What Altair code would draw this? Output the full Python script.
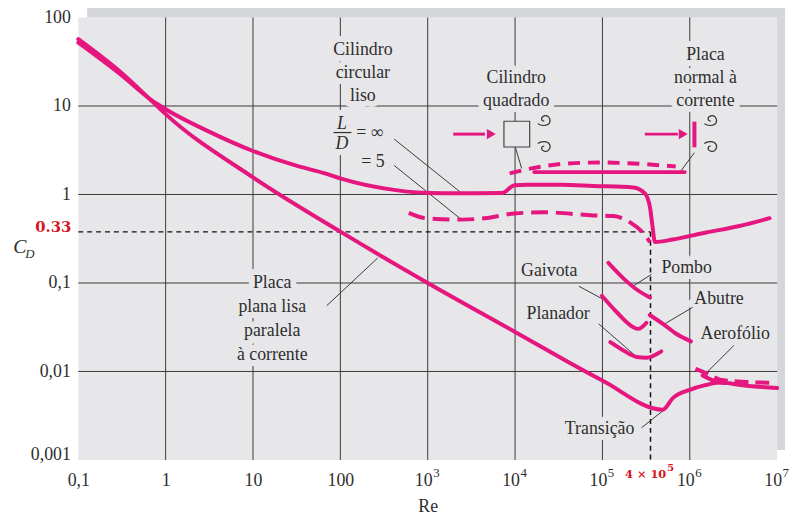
import altair as alt
import pandas as pd

MAG = "#e5177f"
BG = "#e7e7ea"
SHADOW = "#d4d6d9"
INK = "#2e2e2e"
GRID = "#3a3a3a"
RED = "#d8141e"
SERIF = "Liberation Serif"
W, H = 706, 447

# ---------------- curves (Re, C_D) ----------------
plate_par_re = [0.1, 0.3, 0.7, 1, 10, 100, 1000, 1e4, 1e5, 4.9e5, 6.4e5, 1e6, 1.5e6, 2.2e6, 4e6, 1e7]
plate_par_cd = [57, 24.5, 11.3, 8.1, 1.56, 0.38, 0.10, 0.028, 0.0079, 0.0037, 0.0050, 0.0062, 0.0070, 0.0075, 0.0070, 0.0065]

cyl_inf_re = [0.1, 0.3, 0.7, 1, 3.05, 10, 32, 70, 100, 430, 1020, 2480, 7030, 9860, 13800, 33600,
              79000, 2.25e5, 3.06e5, 3.5e5, 3.7e5, 4e5, 6.4e5, 1.5e6, 3.7e6, 8.2e6]
cyl_inf_cd = [52, 23, 11.5, 9.2, 5.2, 3.1, 2.1, 1.71, 1.52, 1.12, 1.04, 1.03, 1.04, 1.27, 1.29, 1.29,
              1.25, 1.2, 1.03, 0.72, 0.48, 0.29, 0.31, 0.37, 0.44, 0.54]

cyl_5_re = [607, 944, 2480, 4500, 9860, 21600, 79000, 1.34e5, 2.1e5, 3.2e5, 3.5e5]
cyl_5_cd = [0.62, 0.54, 0.52, 0.54, 0.61, 0.63, 0.58, 0.57, 0.48, 0.33, 0.29]

square_re = [8670, 15400, 39400, 95500, 2.25e5, 6.9e5]
square_cd = [1.73, 1.97, 2.24, 2.3, 2.24, 2.07]

plate_norm_re = [16600, 8.75e5]
plate_norm_cd = [1.79, 1.79]

pombo_re = [1.17e5, 1.88e5, 2.44e5, 3.5e5]
pombo_cd = [0.169, 0.105, 0.085, 0.0686]
gaivota_re = [98700, 1.46e5, 2.25e5, 2.57e5, 3.19e5]
gaivota_cd = [0.0716, 0.0467, 0.0317, 0.0303, 0.0354]
abutre_re = [3.48e5, 4.93e5, 6.98e5, 1.03e6]
abutre_cd = [0.0435, 0.0345, 0.0267, 0.0219]
planador_re = [1.23e5, 1.74e5, 2.46e5, 3.19e5, 4.72e5]
planador_cd = [0.0215, 0.0173, 0.0146, 0.0143, 0.0169]
aero_solid_re = [1.4e6, 1.96e6, 2.55e6]
aero_solid_cd = [0.0090, 0.00775, 0.0074]
aero_dash_re = [1.16e6, 1.68e6, 2.2e6, 4e6, 8.2e6]
aero_dash_cd = [0.0107, 0.0092, 0.0081, 0.00766, 0.00746]

# ---------------- reference lines ----------------
ref_re = 3.55e5
ref_cd = 0.378

# ---------------- grid / ticks ----------------
grid_x = [1, 10, 100, 1e3, 1e4, 1e5, 1e6]
grid_y = [0.01, 0.1, 1, 10]
x_ticks = [0.1, 1, 10, 100, 1e3, 1e4, 1e5, 1e6, 1e7]
y_ticks = [0.001, 0.01, 0.1, 1, 10, 100]
pow_re = [1e3, 1e4, 1e5, 1e6, 1e7]
pow_exp = ["3", "4", "5", "6", "7"]

# ---------------- labels ----------------
label_text = ["Cilindro", "circular", "liso", "Cilindro", "quadrado", "Placa", "normal à", "corrente",
              "Placa", "plana lisa", "paralela", "à corrente", "Gaivota", "Pombo", "Abutre",
              "Planador", "Aerofólio", "Transição"]
label_re = [181, 181, 181, 10300, 10300, 1.51e6, 1.51e6, 1.51e6, 16.6, 16.6, 16.6, 16.6,
            24600, 9.2e5, 2.16e6, 31100, 3.31e6, 92900]
label_cd = [43, 23.5, 12.9, 20.7, 11.3, 37.8, 20.7, 11.3, 0.101, 0.0531, 0.0290, 0.01525,
            0.136, 0.149, 0.0657, 0.0447, 0.0267, 0.00221]
label_halo = [True] * 12 + [False] + [True] * 5

eq_text = ["= ∞", "= 5"]
eq_re = [152, 173]
eq_cd = [5.01, 2.32]
frac_text = ["L", "D"]
frac_re = [104, 104]
frac_cd = [6.2, 3.72]
frac_bar_re = [83.6, 133.6]
frac_bar_cd = 5.01

lead_re1 = [413, 413, 10100, 1.13e6, 69.7, 53800, 3.64e5, 1.08e6, 90600, 3.2e6, 2.8e5]
lead_cd1 = [4.23, 2.13, 3.38, 2.97, 0.0553, 0.0918, 0.125, 0.0531, 0.0345, 0.0197, 0.00231]
lead_re2 = [2460, 2460, 11900, 7.7e5, 268, 1.17e5, 2.25e5, 4.93e5, 2.38e5, 1.6e6, 4.93e5]
lead_cd2 = [1.03, 0.516, 1.97, 1.78, 0.192, 0.0608, 0.0925, 0.0336, 0.0151, 0.00995, 0.0036]

# ---------------- icons ----------------
arrow_re1 = [1960, 3.06e5]
arrow_re2 = [4520, 7.3e5]
arrow_head_re = [5350, 8.42e5]
icon_cd = 4.81
box_re = [10470]
curl_re = [21600, 21600, 1.74e6, 1.74e6]
curl_cd = [6.87, 3.47, 6.87, 3.47]
curl_pos = ["up", "down", "up", "down"]
plate_bar_re = 1.13e6
plate_bar_cd = [6.66, 3.41]

# ======================================================================
xs = alt.Scale(type="log", domain=[0.1, 1e7], nice=False)
ys = alt.Scale(type="log", domain=[0.001, 100], nice=False)

AX = alt.Axis(values=x_ticks, grid=False, domain=False, ticks=False, labelFlush=False, labelOverlap=False,
              labelExpr="datum.value < 0.5 ? '0,1' : datum.value < 5 ? '1' : datum.value < 50 ? '10' : datum.value < 500 ? '100' : ''",
              labelFont=SERIF, labelFontSize=18, labelColor=INK, labelPadding=21, labelBaseline="middle",
              titleFont=SERIF, titleFontSize=18, titleFontWeight="normal", titleColor=INK,
              titleBaseline="middle", titleY=47)
AY = alt.Axis(values=y_ticks, grid=False, domain=False, ticks=False, labelFlush=False, labelOverlap=False,
              labelExpr="datum.value > 50 ? '100' : datum.value > 5 ? '10' : datum.value > 0.5 ? '1' : datum.value > 0.05 ? '0,1' : datum.value > 0.005 ? '0,01' : '0,001'",
              labelFont=SERIF, labelFontSize=18, labelColor=INK, labelPadding=8,
              labelBaseline={"condition": {"test": "datum.value < 0.002", "value": "alphabetic"}, "value": "middle"})


def X(f="re"):
    return alt.X(f"{f}:Q", scale=xs, axis=AX, title="Re")


def Y(f="cd"):
    return alt.Y(f"{f}:Q", scale=ys, axis=AY, title="")


def frame(name, re, cd):
    return pd.DataFrame({"series": name, "re": re, "cd": cd})


solid_df = pd.concat([
    frame("placa paralela", plate_par_re, plate_par_cd),
    frame("cilindro L/D=inf", cyl_inf_re, cyl_inf_cd),
    frame("placa normal", plate_norm_re, plate_norm_cd),
    frame("pombo", pombo_re, pombo_cd),
    frame("gaivota", gaivota_re, gaivota_cd),
    frame("abutre", abutre_re, abutre_cd),
    frame("planador", planador_re, planador_cd),
    frame("aerofolio", aero_solid_re, aero_solid_cd),
])
dash_df = pd.concat([
    frame("cilindro L/D=5", cyl_5_re, cyl_5_cd),
    frame("cilindro quadrado", square_re, square_cd),
    frame("aerofolio tracejado", aero_dash_re, aero_dash_cd),
])

one = pd.DataFrame({"a": [0]})

shadow_top = alt.Chart(one).mark_rect(color=SHADOW).encode(
    x=alt.value(9), x2=alt.value(714), y=alt.value(-10), y2=alt.value(0))
shadow_right = alt.Chart(one).mark_rect(color=SHADOW).encode(
    x=alt.value(706), x2=alt.value(714), y=alt.value(-10), y2=alt.value(437))

gx = alt.Chart(pd.DataFrame({"re": grid_x})).mark_rule(color=GRID, strokeWidth=1).encode(x=X())
gy = alt.Chart(pd.DataFrame({"cd": grid_y})).mark_rule(color=GRID, strokeWidth=1).encode(y=Y())

lab_df = pd.DataFrame({"re": label_re, "cd": label_cd, "t": label_text, "halo": label_halo})
eq_df = pd.DataFrame({"re": eq_re, "cd": eq_cd, "t": eq_text})
frac_df = pd.DataFrame({"re": frac_re, "cd": frac_cd, "t": frac_text})

halo_kw = dict(stroke=BG, strokeWidth=12, fill=BG, strokeJoin="round", font=SERIF, fontSize=18, baseline="middle")
halo1 = alt.Chart(lab_df[lab_df["halo"]]).mark_text(**halo_kw).encode(x=X(), y=Y(), text="t:N")
halo2 = alt.Chart(eq_df).mark_text(align="left", **halo_kw).encode(x=X(), y=Y(), text="t:N")
halo3 = alt.Chart(frac_df).mark_text(fontStyle="italic", **halo_kw).encode(x=X(), y=Y(), text="t:N")

ref_h = alt.Chart(pd.DataFrame({"re": [0.1], "re2": [ref_re], "cd": [ref_cd]})).mark_rule(
    color="#111", strokeWidth=1.5, strokeDash=[5, 4]).encode(x=X(), x2="re2:Q", y=Y())
ref_v = alt.Chart(pd.DataFrame({"re": [ref_re], "cd": [ref_cd], "cd2": [0.001]})).mark_rule(
    color="#111", strokeWidth=1.5, strokeDash=[5, 4]).encode(x=X(), y=Y(), y2="cd2:Q")

lead_df = pd.DataFrame({"re": lead_re1, "cd": lead_cd1, "re2": lead_re2, "cd2": lead_cd2})
leaders = alt.Chart(lead_df).mark_rule(color="#3a3a3a", strokeWidth=1).encode(
    x=X(), y=Y(), x2="re2:Q", y2="cd2:Q")

solid = alt.Chart(solid_df).mark_line(color=MAG, strokeWidth=4, interpolate="monotone", strokeCap="round").encode(
    x=X(), y=Y(), detail="series:N")

dashed = alt.Chart(dash_df).mark_line(color=MAG, strokeWidth=4, interpolate="monotone").encode(
    x=X(), y=Y(), detail="series:N",
    strokeDash=alt.StrokeDash("series:N", legend=None,
                              scale=alt.Scale(domain=["cilindro L/D=5", "cilindro quadrado", "aerofolio tracejado"],
                                              range=[[17, 8], [12, 8], [14, 7]])))

arrow_df = pd.DataFrame({"re": arrow_re1, "re2": arrow_re2, "cd": [icon_cd] * 2, "h": arrow_head_re})
arrows = alt.Chart(arrow_df).mark_rule(color=MAG, strokeWidth=3).encode(x=X(), x2="re2:Q", y=Y())
heads = alt.Chart(arrow_df).mark_point(shape="triangle-right", filled=True, color=MAG, size=110, opacity=1).encode(
    x=X("h"), y=Y())
box = alt.Chart(pd.DataFrame({"re": box_re, "cd": [icon_cd]})).mark_point(
    shape="square", fill=BG, stroke="#444", strokeWidth=1.2, size=676, opacity=1, fillOpacity=1).encode(x=X(), y=Y())
plate_bar = alt.Chart(pd.DataFrame({"re": [plate_bar_re], "cd": [plate_bar_cd[0]], "cd2": [plate_bar_cd[1]]})).mark_rule(
    color=MAG, strokeWidth=4).encode(x=X(), y=Y(), y2="cd2:Q")
curl_df = pd.DataFrame({"re": curl_re, "cd": curl_cd, "p": curl_pos})
UP = "M -1 0.5 C -0.5 0.9 0.5 0.9 0.8 0.4 C 1.1 -0.2 0.6 -0.9 0 -0.7 C -0.6 -0.5 -0.5 0.1 0 0.1"
DOWN = "M -1 -0.5 C -0.5 -0.9 0.5 -0.9 0.8 -0.4 C 1.1 0.2 0.6 0.9 0 0.7 C -0.6 0.5 -0.5 -0.1 0 -0.1"
curls = alt.Chart(curl_df).mark_point(filled=False, stroke="#333", strokeWidth=1.2, size=170, opacity=1).encode(
    x=X(), y=Y(), shape=alt.Shape("p:N", legend=None, scale=alt.Scale(domain=["up", "down"], range=[UP, DOWN])))

frac_bar = alt.Chart(pd.DataFrame({"re": [frac_bar_re[0]], "re2": [frac_bar_re[1]], "cd": [frac_bar_cd]})).mark_rule(
    color=INK, strokeWidth=1.2).encode(x=X(), x2="re2:Q", y=Y())

txt_kw = dict(font=SERIF, fontSize=18, color=INK, baseline="middle")
texts = alt.Chart(lab_df).mark_text(**txt_kw).encode(x=X(), y=Y(), text="t:N")
eqs = alt.Chart(eq_df).mark_text(align="left", **txt_kw).encode(x=X(), y=Y(), text="t:N")
fracs = alt.Chart(frac_df).mark_text(fontStyle="italic", **txt_kw).encode(x=X(), y=Y(), text="t:N")

pow_df = pd.DataFrame({"re": pow_re, "e": pow_exp})
pow_base = alt.Chart(pow_df).mark_text(align="right", dx=5, **txt_kw).encode(
    x=X(), y=alt.value(H + 21), text=alt.value("10"))
pow_exp_t = alt.Chart(pow_df).mark_text(align="left", dx=5.5, font=SERIF, fontSize=13, color=INK, baseline="middle").encode(
    x=X(), y=alt.value(H + 13), text="e:N")

red_033 = alt.Chart(one).mark_text(align="right", font="DejaVu Serif", fontWeight="bold", fontSize=15,
                                   color=RED, baseline="middle").encode(
    x=alt.value(-7), y=alt.value(212), text=alt.value("0.33"))
red_4 = alt.Chart(one).mark_text(align="right", font="DejaVu Serif", fontWeight="bold", fontSize=11.5,
                                 color=RED, baseline="middle").encode(
    x=alt.value(594), y=alt.value(462), text=alt.value("4 × 10"))
red_5 = alt.Chart(one).mark_text(align="left", font="DejaVu Serif", fontWeight="bold", fontSize=10,
                                 color=RED, baseline="middle").encode(
    x=alt.value(595), y=alt.value(455), text=alt.value("5"))
c_lab = alt.Chart(one).mark_text(font=SERIF, fontStyle="italic", fontSize=20, color=INK, baseline="middle").encode(
    x=alt.value(-59), y=alt.value(232), text=alt.value("C"))
d_lab = alt.Chart(one).mark_text(font=SERIF, fontStyle="italic", fontSize=13, color=INK, baseline="middle").encode(
    x=alt.value(-49), y=alt.value(239), text=alt.value("D"))

chart = alt.layer(
    shadow_top, shadow_right, gx, gy, halo1, halo2, halo3, ref_h, ref_v, leaders,
    solid, dashed, arrows, heads, box, plate_bar, curls, frac_bar,
    texts, eqs, fracs, pow_base, pow_exp_t, red_033, red_4, red_5, c_lab, d_lab
).resolve_scale(strokeDash="independent", shape="independent").properties(
    width=W, height=H,
    autosize=alt.AutoSizeParams(type="none"),
    padding={"left": 71, "top": 7, "right": 14, "bottom": 54},
).configure_view(fill=BG, strokeWidth=0)

chart.save("out.html", embed_options={"renderer": "svg", "actions": False})
